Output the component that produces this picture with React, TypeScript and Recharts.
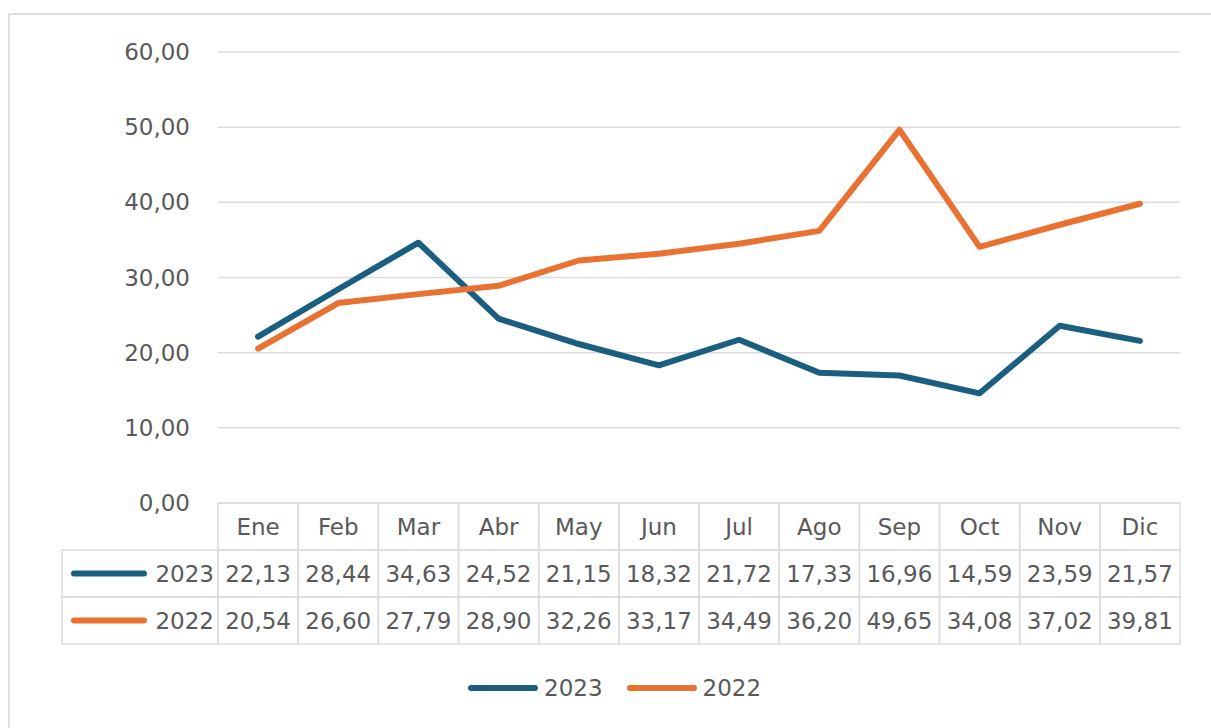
import { LineChart, Line, XAxis, YAxis, CartesianGrid } from 'recharts';

// Monthly values, 2023 vs 2022
const months = ['Ene', 'Feb', 'Mar', 'Abr', 'May', 'Jun', 'Jul', 'Ago', 'Sep', 'Oct', 'Nov', 'Dic'];
const values2023 = [22.13, 28.44, 34.63, 24.52, 21.15, 18.32, 21.72, 17.33, 16.96, 14.59, 23.59, 21.57];
const values2022 = [20.54, 26.6, 27.79, 28.9, 32.26, 33.17, 34.49, 36.2, 49.65, 34.08, 37.02, 39.81];
const yTicks = [0, 10, 20, 30, 40, 50, 60];

const seriesList = [
  { key: 'y2023', name: '2023', color: '#1B5F80', values: values2023 },
  { key: 'y2022', name: '2022', color: '#E97132', values: values2022 },
];

const chartData = months.map((m, i) => ({ month: m, y2023: values2023[i], y2022: values2022[i] }));

const WIDTH = 1211;
const HEIGHT = 728;
// axis sizes are added on top of the margins
const MARGIN = { top: 52, right: 31, bottom: 0, left: 0 };
const Y_AXIS_W = 218;
const X_AXIS_H = 225;
const PLOT_W = WIDTH - MARGIN.left - MARGIN.right - Y_AXIS_W;
const COL_W = PLOT_W / months.length;
const ROW_H = 47;
const KEY_COL_W = 156;

const FONT = '"DejaVu Sans", sans-serif';
const TEXT = '#595959';
const BORDER = '#dcdcdc';

const fmt = (v: number) => v.toFixed(2).replace('.', ',');

// Data table drawn under the x axis, one column per tick
const TableTick = (props: any) => {
  const { x, y, payload } = props;
  const i = months.indexOf(payload.value);
  const left = x - COL_W / 2;
  return (
    <g>
      <rect x={left} y={y} width={COL_W} height={ROW_H} fill="none" stroke={BORDER} strokeWidth={1.5} />
      <text x={x} y={y + ROW_H / 2} textAnchor="middle" dominantBaseline="central" fill={TEXT} fontSize={23} fontFamily={FONT}>
        {payload.value}
      </text>
      {seriesList.map((s, r) => (
        <g key={s.key}>
          <rect x={left} y={y + ROW_H * (r + 1)} width={COL_W} height={ROW_H} fill="none" stroke={BORDER} strokeWidth={1.5} />
          <text x={x} y={y + ROW_H * (r + 1.5)} textAnchor="middle" dominantBaseline="central" fill={TEXT} fontSize={23} fontFamily={FONT}>
            {fmt(s.values[i])}
          </text>
          {i === 0 && (
            <g>
              <rect x={left - KEY_COL_W} y={y + ROW_H * (r + 1)} width={KEY_COL_W} height={ROW_H} fill="none" stroke={BORDER} strokeWidth={1.5} />
              <line
                x1={left - KEY_COL_W + 12}
                x2={left - KEY_COL_W + 82}
                y1={y + ROW_H * (r + 1.5)}
                y2={y + ROW_H * (r + 1.5)}
                stroke={s.color}
                strokeWidth={6}
                strokeLinecap="round"
              />
              <text x={left - 4} y={y + ROW_H * (r + 1.5)} textAnchor="end" dominantBaseline="central" fill={TEXT} fontSize={23} fontFamily={FONT}>
                {s.name}
              </text>
            </g>
          )}
        </g>
      ))}
    </g>
  );
};

export default function App() {
  return (
    <div style={{ position: 'absolute', left: 0, top: 0, width: WIDTH, height: HEIGHT, background: '#fff', overflow: 'hidden' }}>
      <div style={{ position: 'absolute', left: 8, top: 13, width: WIDTH, height: HEIGHT, border: '2px solid #dedede' }} />
      <LineChart width={WIDTH} height={HEIGHT} data={chartData} margin={MARGIN}>
        <CartesianGrid vertical={false} stroke="#dcdcdc" strokeWidth={1.5} />
        <YAxis
          width={Y_AXIS_W}
          domain={[0, 60]}
          ticks={yTicks}
          tickFormatter={fmt}
          axisLine={false}
          tickLine={false}
          tickMargin={22}
          tick={{ fill: TEXT, fontSize: 23, fontFamily: FONT }}
        />
        <XAxis
          dataKey="month"
          height={X_AXIS_H}
          padding={{ left: COL_W / 2, right: COL_W / 2 }}
          axisLine={false}
          tickLine={false}
          tickSize={0}
          tickMargin={0}
          interval={0}
          tick={<TableTick />}
        />
        {seriesList.map((s) => (
          <Line
            key={s.key}
            dataKey={s.key}
            name={s.name}
            stroke={s.color}
            strokeWidth={6}
            strokeLinejoin="round"
            strokeLinecap="round"
            dot={false}
            isAnimationActive={false}
          />
        ))}
      </LineChart>
      {/* legend below the table */}
      <div
        style={{
          position: 'absolute',
          left: 468,
          top: 675,
          display: 'flex',
          alignItems: 'center',
          gap: 24,
          fontFamily: FONT,
          fontSize: 23,
          color: TEXT,
        }}
      >
        {seriesList.map((s) => (
          <div key={s.key} style={{ display: 'flex', alignItems: 'center' }}>
            <div style={{ width: 70, height: 6, borderRadius: 3, background: s.color, marginRight: 6 }} />
            <span>{s.name}</span>
          </div>
        ))}
      </div>
    </div>
  );
}
